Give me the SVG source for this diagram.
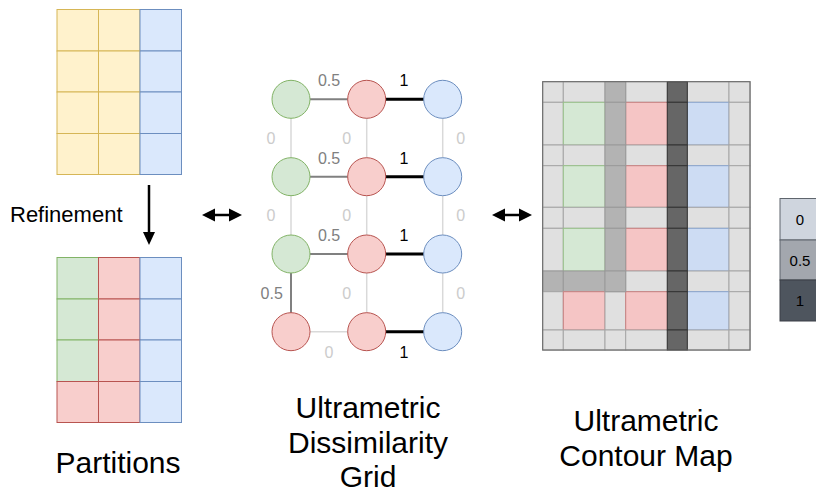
<svg xmlns="http://www.w3.org/2000/svg" width="816" height="493" viewBox="0 0 816 493">
<defs>
<style>
text{font-family:"Liberation Sans",Arial,sans-serif}
.y{fill:#fff2cc;stroke:#d6b656;stroke-width:1}
.b{fill:#dae8fc;stroke:#6c8ebf;stroke-width:1}
.g{fill:#d5e8d4;stroke:#82b366;stroke-width:1}
.r{fill:#f8cecc;stroke:#b85450;stroke-width:1}
.cb{fill:#cddcf3;stroke:#8aa6cf;stroke-width:1}
.cg{fill:#d5e8d4;stroke:#97c188;stroke-width:1}
.cr{fill:#f5c5c5;stroke:#c98080;stroke-width:1}
.l0{fill:#e0e0e0;stroke:#a6a6a6;stroke-width:1}
.l5{fill:#b3b3b3;stroke:#999999;stroke-width:1}
.l1{fill:#666666;stroke:#333333;stroke-width:1}
.e0{stroke:#d9d9d9;stroke-width:1.5;fill:none}
.e5{stroke:#808080;stroke-width:2;fill:none}
.e1{stroke:#000000;stroke-width:3;fill:none}
.t0{fill:#cccccc;font-size:16px;text-anchor:middle}
.t5{fill:#808080;font-size:16px;text-anchor:middle}
.t1{fill:#000000;font-size:16px;text-anchor:middle}
.cap{font-size:30px;fill:#000;text-anchor:middle}
.arr{stroke:#000;stroke-width:2.5;fill:none}
</style>
</defs>

<g id="partition-top">
<rect class="y" x="57" y="9.5" width="41.5" height="41.5"/>
<rect class="y" x="98.5" y="9.5" width="41.5" height="41.5"/>
<rect class="b" x="140" y="9.5" width="41.5" height="41.5"/>
<rect class="y" x="57" y="51" width="41.5" height="41"/>
<rect class="y" x="98.5" y="51" width="41.5" height="41"/>
<rect class="b" x="140" y="51" width="41.5" height="41"/>
<rect class="y" x="57" y="92" width="41.5" height="41.5"/>
<rect class="y" x="98.5" y="92" width="41.5" height="41.5"/>
<rect class="b" x="140" y="92" width="41.5" height="41.5"/>
<rect class="y" x="57" y="133.5" width="41.5" height="41"/>
<rect class="y" x="98.5" y="133.5" width="41.5" height="41"/>
<rect class="b" x="140" y="133.5" width="41.5" height="41"/>
</g>

<g id="partition-bottom">
<rect class="g" x="57" y="257.5" width="41.5" height="41.5"/>
<rect class="r" x="98.5" y="257.5" width="41.5" height="41.5"/>
<rect class="b" x="140" y="257.5" width="41.5" height="41.5"/>
<rect class="g" x="57" y="299" width="41.5" height="41"/>
<rect class="r" x="98.5" y="299" width="41.5" height="41"/>
<rect class="b" x="140" y="299" width="41.5" height="41"/>
<rect class="g" x="57" y="340" width="41.5" height="41.5"/>
<rect class="r" x="98.5" y="340" width="41.5" height="41.5"/>
<rect class="b" x="140" y="340" width="41.5" height="41.5"/>
<rect class="r" x="57" y="381.5" width="41.5" height="41"/>
<rect class="r" x="98.5" y="381.5" width="41.5" height="41"/>
<rect class="b" x="140" y="381.5" width="41.5" height="41"/>
</g>

<g id="connectors">
<line class="arr" x1="149" y1="185" x2="149" y2="234"/>
<polygon points="143,232 155,232 149,245" fill="#000"/>
<line class="arr" x1="210" y1="215" x2="234" y2="215"/>
<polygon points="202,215 215,208.5 215,221.5" fill="#000"/>
<polygon points="242,215 229,208.5 229,221.5" fill="#000"/>
<line class="arr" x1="500" y1="215" x2="524" y2="215"/>
<polygon points="492,215 505,208.5 505,221.5" fill="#000"/>
<polygon points="532,215 519,208.5 519,221.5" fill="#000"/>

<line class="e5" x1="310" y1="99.3" x2="348" y2="99.3"/>
<line class="e1" x1="385.5" y1="99.3" x2="424" y2="99.3"/>
<line class="e5" x1="310" y1="176.7" x2="348" y2="176.7"/>
<line class="e1" x1="385.5" y1="176.7" x2="424" y2="176.7"/>
<line class="e5" x1="310" y1="254" x2="348" y2="254"/>
<line class="e1" x1="385.5" y1="254" x2="424" y2="254"/>
<line class="e0" x1="310" y1="331.7" x2="348" y2="331.7"/>
<line class="e1" x1="385.5" y1="331.7" x2="424" y2="331.7"/>
<line class="e0" x1="291" y1="118" x2="291" y2="158"/>
<line class="e0" x1="291" y1="195.5" x2="291" y2="235"/>
<line class="e5" x1="291" y1="273" x2="291" y2="313"/>
<line class="e0" x1="366.7" y1="118" x2="366.7" y2="158"/>
<line class="e0" x1="366.7" y1="195.5" x2="366.7" y2="235"/>
<line class="e0" x1="366.7" y1="273" x2="366.7" y2="313"/>
<line class="e0" x1="442.7" y1="118" x2="442.7" y2="158"/>
<line class="e0" x1="442.7" y1="195.5" x2="442.7" y2="235"/>
<line class="e0" x1="442.7" y1="273" x2="442.7" y2="313"/>

<text class="t5" x="329" y="86">0.5</text>
<text class="t1" x="404" y="86">1</text>
<text class="t5" x="329" y="163.5">0.5</text>
<text class="t1" x="404" y="163.5">1</text>
<text class="t5" x="329" y="241">0.5</text>
<text class="t1" x="404" y="241">1</text>
<text class="t0" x="329" y="357.5">0</text>
<text class="t1" x="404" y="357.5">1</text>
<text class="t0" x="271" y="144">0</text>
<text class="t0" x="346.7" y="144">0</text>
<text class="t0" x="460.7" y="144">0</text>
<text class="t0" x="271" y="221">0</text>
<text class="t0" x="346.7" y="221">0</text>
<text class="t0" x="460.7" y="221">0</text>
<text class="t5" x="271.7" y="299">0.5</text>
<text class="t0" x="346.7" y="299">0</text>
<text class="t0" x="460.7" y="299">0</text>
</g>

<g id="grid-nodes">
<circle id="n00" class="g" cx="291" cy="99.3" r="19"/>
<circle id="n01" class="r" cx="366.7" cy="99.3" r="19"/>
<circle id="n02" class="b" cx="442.7" cy="99.3" r="19"/>
<circle id="n10" class="g" cx="291" cy="176.7" r="19"/>
<circle id="n11" class="r" cx="366.7" cy="176.7" r="19"/>
<circle id="n12" class="b" cx="442.7" cy="176.7" r="19"/>
<circle id="n20" class="g" cx="291" cy="254" r="19"/>
<circle id="n21" class="r" cx="366.7" cy="254" r="19"/>
<circle id="n22" class="b" cx="442.7" cy="254" r="19"/>
<circle id="n30" class="r" cx="291" cy="331.7" r="19"/>
<circle id="n31" class="r" cx="366.7" cy="331.7" r="19"/>
<circle id="n32" class="b" cx="442.7" cy="331.7" r="19"/>
</g>

<g id="contour-map">
<rect class="l0" x="542.7" y="81.7" width="207.3" height="268.3"/>
<rect class="l0" x="542.7" y="81.7" width="20.6" height="20.6"/>
<rect class="l0" x="563.3" y="81.7" width="41.7" height="20.6"/>
<rect class="l0" x="625.7" y="81.7" width="41.6" height="20.6"/>
<rect class="l0" x="687.3" y="81.7" width="41.7" height="20.6"/>
<rect class="l0" x="729" y="81.7" width="21" height="20.6"/>

<rect class="l0" x="542.7" y="102.3" width="20.6" height="42.7"/>
<rect class="cg" x="563.3" y="102.3" width="41.7" height="42.7"/>
<rect class="cr" x="625.7" y="102.3" width="41.6" height="42.7"/>
<rect class="cb" x="687.3" y="102.3" width="41.7" height="42.7"/>
<rect class="l0" x="729" y="102.3" width="21" height="42.7"/>

<rect class="l0" x="542.7" y="145" width="20.6" height="20.7"/>
<rect class="l0" x="563.3" y="145" width="41.7" height="20.7"/>
<rect class="l0" x="625.7" y="145" width="41.6" height="20.7"/>
<rect class="l0" x="687.3" y="145" width="41.7" height="20.7"/>
<rect class="l0" x="729" y="145" width="21" height="20.7"/>

<rect class="l0" x="542.7" y="165.7" width="20.6" height="41.6"/>
<rect class="cg" x="563.3" y="165.7" width="41.7" height="41.6"/>
<rect class="cr" x="625.7" y="165.7" width="41.6" height="41.6"/>
<rect class="cb" x="687.3" y="165.7" width="41.7" height="41.6"/>
<rect class="l0" x="729" y="165.7" width="21" height="41.6"/>

<rect class="l0" x="542.7" y="207.3" width="20.6" height="21"/>
<rect class="l0" x="563.3" y="207.3" width="41.7" height="21"/>
<rect class="l0" x="625.7" y="207.3" width="41.6" height="21"/>
<rect class="l0" x="687.3" y="207.3" width="41.7" height="21"/>
<rect class="l0" x="729" y="207.3" width="21" height="21"/>

<rect class="l0" x="542.7" y="228.3" width="20.6" height="42.7"/>
<rect class="cg" x="563.3" y="228.3" width="41.7" height="42.7"/>
<rect class="cr" x="625.7" y="228.3" width="41.6" height="42.7"/>
<rect class="cb" x="687.3" y="228.3" width="41.7" height="42.7"/>
<rect class="l0" x="729" y="228.3" width="21" height="42.7"/>

<rect class="l5" x="542.7" y="271" width="20.6" height="20.7"/>
<rect class="l5" x="563.3" y="271" width="41.7" height="20.7"/>
<rect class="l0" x="625.7" y="271" width="41.6" height="20.7"/>
<rect class="l0" x="687.3" y="271" width="41.7" height="20.7"/>
<rect class="l0" x="729" y="271" width="21" height="20.7"/>

<rect class="l0" x="542.7" y="291.7" width="20.6" height="38.3"/>
<rect class="cr" x="563.3" y="291.7" width="41.7" height="38.3"/>
<rect class="l0" x="605" y="291.7" width="20.7" height="38.3"/>
<rect class="cr" x="625.7" y="291.7" width="41.6" height="38.3"/>
<rect class="cb" x="687.3" y="291.7" width="41.7" height="38.3"/>
<rect class="l0" x="729" y="291.7" width="21" height="38.3"/>

<rect class="l0" x="542.7" y="330" width="20.6" height="20"/>
<rect class="l0" x="563.3" y="330" width="41.7" height="20"/>
<rect class="l0" x="605" y="330" width="20.7" height="20"/>
<rect class="l0" x="625.7" y="330" width="41.6" height="20"/>
<rect class="l0" x="687.3" y="330" width="41.7" height="20"/>
<rect class="l0" x="729" y="330" width="21" height="20"/>

<rect class="l5" x="605" y="81.7" width="20.7" height="20.6"/>
<rect class="l5" x="605" y="102.3" width="20.7" height="42.7"/>
<rect class="l5" x="605" y="145" width="20.7" height="20.7"/>
<rect class="l5" x="605" y="165.7" width="20.7" height="41.6"/>
<rect class="l5" x="605" y="207.3" width="20.7" height="21"/>
<rect class="l5" x="605" y="228.3" width="20.7" height="42.7"/>
<rect class="l5" x="605" y="271" width="20.7" height="20.7"/>

<rect class="l1" x="667.3" y="81.7" width="20" height="20.6"/>
<rect class="l1" x="667.3" y="102.3" width="20" height="42.7"/>
<rect class="l1" x="667.3" y="145" width="20" height="20.7"/>
<rect class="l1" x="667.3" y="165.7" width="20" height="41.6"/>
<rect class="l1" x="667.3" y="207.3" width="20" height="21"/>
<rect class="l1" x="667.3" y="228.3" width="20" height="42.7"/>
<rect class="l1" x="667.3" y="271" width="20" height="20.7"/>
<rect class="l1" x="667.3" y="291.7" width="20" height="38.3"/>
<rect class="l1" x="667.3" y="330" width="20" height="20"/>
<rect x="542.7" y="81.7" width="207.3" height="268.3" fill="none" stroke="#666" stroke-width="1"/>
</g>

<g id="legend">
<rect x="780" y="198.5" width="42" height="41.5" fill="#cfd5de" stroke="#5f656d" stroke-width="1"/>
<rect x="780" y="240" width="42" height="40" fill="#a3a7ae" stroke="#5f656d" stroke-width="1"/>
<rect x="780" y="280" width="42" height="41" fill="#4e555e" stroke="#3a3f46" stroke-width="1"/>
<text x="800" y="224.5" font-size="15" text-anchor="middle" fill="#000">0</text>
<text x="800" y="265.5" font-size="15" text-anchor="middle" fill="#000">0.5</text>
<text x="800" y="306" font-size="15" text-anchor="middle" fill="#000">1</text>
</g>

<g id="labels">
<text x="10" y="222" font-size="22" fill="#000">Refinement</text>
<text class="cap" x="118" y="473">Partitions</text>
<text class="cap" x="368" y="418">Ultrametric</text>
<text class="cap" x="368" y="453">Dissimilarity</text>
<text class="cap" x="368" y="487">Grid</text>
<text class="cap" x="646" y="431">Ultrametric</text>
<text class="cap" x="646" y="466">Contour Map</text>
</g>
</svg>
